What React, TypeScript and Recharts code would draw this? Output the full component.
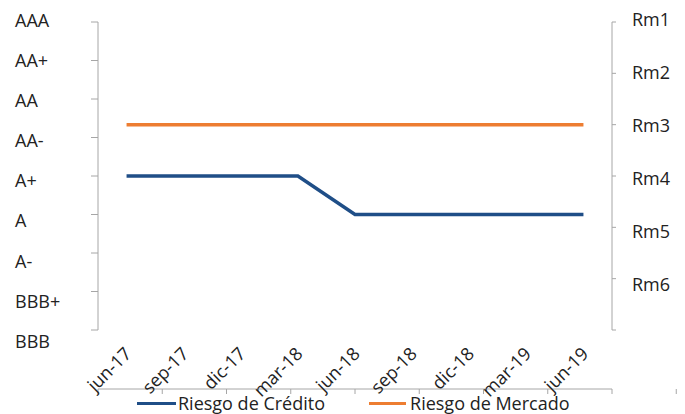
import React from 'react';
import { LineChart, Line, XAxis, YAxis, Legend } from 'recharts';

const periods = ['jun-17', 'sep-17', 'dic-17', 'mar-18', 'jun-18', 'sep-18', 'dic-18', 'mar-19', 'jun-19'];
const ratingLevels = ['AAA', 'AA+', 'AA', 'AA-', 'A+', 'A', 'A-', 'BBB+', 'BBB'];
const marketLevels = ['Rm1', 'Rm2', 'Rm3', 'Rm4', 'Rm5', 'Rm6'];
const creditRisk = ['A+', 'A+', 'A+', 'A+', 'A', 'A', 'A', 'A', 'A'];
const marketRisk = ['Rm3', 'Rm3', 'Rm3', 'Rm3', 'Rm3', 'Rm3', 'Rm3', 'Rm3', 'Rm3'];
const leftTicks = [0, 1, 2, 3, 4, 5, 6, 7, 8];
const rightTicks = [0, 1, 2, 3, 4, 5, 6];
const boundaryTicks = [0, 1, 2, 3, 4, 5, 6, 7, 8, 9];

const seriesNames = { credito: 'Riesgo de Crédito', mercado: 'Riesgo de Mercado' };
const BLUE = '#1F4E87';
const ORANGE = '#ED7D31';
const AXIS = '#A6A6A6';
const FONT = '"Open Sans", sans-serif';
const TEXT = '#222222';
const FS = 18;

const data = periods.map((p, i) => ({
  period: p,
  credito: ratingLevels.indexOf(creditRisk[i]),
  mercado: marketLevels.indexOf(marketRisk[i]),
}));

const LeftTick = (props: any) => {
  const { y, payload } = props;
  const yy = 20.5 + (y - 22) * 1.042;
  return (
    <text x={15} y={yy} dy="0.35em" textAnchor="start" fontFamily={FONT} fontSize={FS} fill={TEXT}>
      {ratingLevels[payload.value]}
    </text>
  );
};

const RightTick = (props: any) => {
  const { x, y, payload } = props;
  const label = marketLevels[payload.value];
  if (!label) return <g />;
  const yy = 20 + (y - 22) * 1.03;
  return (
    <text x={x + 14} y={yy} dy="0.35em" textAnchor="start" fontFamily={FONT} fontSize={FS} fill={TEXT}>
      {label}
    </text>
  );
};

const XTick = (props: any) => {
  const { x, y, payload } = props;
  return (
    <g transform={`translate(${x + 6},${y + 17})`}>
      <text x={0} y={0} textAnchor="end" transform="rotate(-45)" fontFamily={FONT} fontSize={FS} fill={TEXT}>
        {payload.value}
      </text>
    </g>
  );
};

const LegendContent = (props: any) => {
  const { payload } = props;
  return (
    <div style={{ display: 'flex', justifyContent: 'flex-start', alignItems: 'center', height: 18, fontFamily: FONT, fontSize: FS, lineHeight: '16px', color: TEXT, paddingLeft: 137, whiteSpace: 'nowrap' }}>
      {(payload || []).map((item: any, i: number) => (
        <div key={i} style={{ display: 'flex', alignItems: 'center', marginRight: i === 0 ? 44 : 0 }}>
          <div style={{ width: i === 0 ? 39 : 37, height: 3, background: item.color, marginRight: i === 0 ? 2 : 4 }} />
          <span style={{ lineHeight: '16px' }}>{item.value}</span>
        </div>
      ))}
    </div>
  );
};

export default function App() {
  return (
    <div style={{ position: 'absolute', left: 0, top: 0, width: 685, height: 414, background: '#fff' }}>
      <LineChart width={685} height={414} data={data} margin={{ top: 22, right: 0, bottom: 0, left: 0 }}>
        <XAxis
          xAxisId="grid"
          type="number"
          domain={[0, 9]}
          ticks={boundaryTicks}
          tickFormatter={() => ''}
          height={5}
          tickSize={5}
          stroke={AXIS}
          axisLine={{ stroke: AXIS }}
          tickLine={{ stroke: AXIS }}
          allowDataOverflow
        />
        <XAxis
          xAxisId="cat"
          dataKey="period"
          scale="band"
          interval={0}
          axisLine={false}
          tickLine={false}
          height={59}
          tick={<XTick />}
        />
        <YAxis
          yAxisId="left"
          type="number"
          domain={[0, 8]}
          reversed
          ticks={leftTicks}
          interval={0}
          width={98}
          tickSize={7}
          axisLine={{ stroke: AXIS }}
          tickLine={{ stroke: AXIS }}
          tick={<LeftTick />}
        />
        <YAxis
          yAxisId="right"
          orientation="right"
          type="number"
          domain={[0, 6]}
          reversed
          ticks={rightTicks}
          interval={0}
          width={73}
          tickSize={4}
          axisLine={{ stroke: AXIS }}
          tickLine={{ stroke: AXIS }}
          tick={<RightTick />}
        />
        <Legend verticalAlign="bottom" height={20} content={<LegendContent />} />
        <Line
          xAxisId="cat"
          yAxisId="left"
          type="linear"
          dataKey="credito"
          name={seriesNames.credito}
          stroke={BLUE}
          strokeWidth={3.5}
          dot={false}
          activeDot={false}
          isAnimationActive={false}
        />
        <Line
          xAxisId="cat"
          yAxisId="right"
          type="linear"
          dataKey="mercado"
          name={seriesNames.mercado}
          stroke={ORANGE}
          strokeWidth={3.5}
          dot={false}
          activeDot={false}
          isAnimationActive={false}
        />
      </LineChart>
    </div>
  );
}
